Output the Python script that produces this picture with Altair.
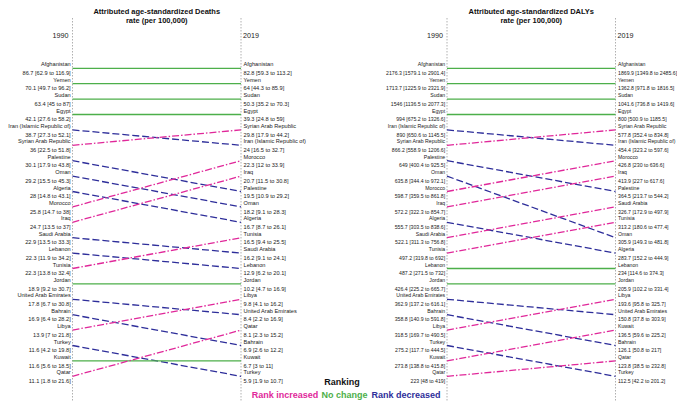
import altair as alt
import pandas as pd

FONT = "Liberation Sans"

# ---------------- data ----------------
deaths_1990_countries = [
    "Afghanistan", "Yemen", "Sudan", "Egypt", "Iran (Islamic Republic of)",
    "Syrian Arab Republic", "Palestine", "Oman", "Algeria", "Morocco", "Iraq",
    "Saudi Arabia", "Lebanon", "Tunisia", "Jordan", "United Arab Emirates",
    "Bahrain", "Libya", "Turkey", "Kuwait", "Qatar"]
deaths_1990_values = [
    "86.7 [62.9 to 116.9]", "70.1 [49.7 to 96.2]", "63.4 [45 to 87]",
    "42.1 [27.6 to 58.2]", "38.7 [27.3 to 52.1]", "36 [22.5 to 51.8]",
    "30.1 [17.9 to 43.8]", "29.2 [15.5 to 45.3]", "28 [14.8 to 43.1]",
    "25.8 [14.7 to 38]", "24.7 [13.5 to 37]", "22.9 [13.5 to 33.3]",
    "22.3 [11.9 to 34.2]", "22.3 [13.8 to 32.4]", "18.9 [9.2 to 30.7]",
    "17.8 [6.7 to 30.8]", "16.9 [6.4 to 28.2]", "13.9 [7 to 21.8]",
    "11.6 [4.2 to 19.8]", "11.6 [5.6 to 18.5]", "11.1 [1.8 to 21.6]"]
deaths_2019_countries = [
    "Afghanistan", "Yemen", "Sudan", "Egypt", "Syrian Arab Republic",
    "Iran (Islamic Republic of)", "Morocco", "Iraq", "Palestine", "Oman",
    "Algeria", "Tunisia", "Saudi Arabia", "Lebanon", "Jordan", "Libya",
    "United Arab Emirates", "Qatar", "Bahrain", "Kuwait", "Turkey"]
deaths_2019_values = [
    "82.8 [59.3 to 113.2]", "64 [44.3 to 85.9]", "50.3 [35.2 to 70.3]",
    "39.3 [24.8 to 59]", "29.8 [17.9 to 44.2]", "24 [16.5 to 32.7]",
    "22.3 [12 to 33.9]", "20.7 [11.5 to 30.8]", "19.5 [10.9 to 29.2]",
    "18.2 [9.1 to 28.3]", "16.7 [8.7 to 26.1]", "16.5 [9.4 to 25.5]",
    "16.2 [9.1 to 24.1]", "12.9 [6.2 to 20.1]", "10.2 [4.7 to 16.9]",
    "9.8 [4.1 to 16.2]", "8.4 [2.2 to 16.9]", "8.1 [2.3 to 15.2]",
    "6.9 [2.6 to 12.2]", "6.7 [3 to 11]", "5.9 [1.9 to 10.7]"]

dalys_1990_countries = [
    "Afghanistan", "Yemen", "Sudan", "Egypt", "Iran (Islamic Republic of)",
    "Syrian Arab Republic", "Palestine", "Oman", "Morocco", "Iraq", "Algeria",
    "Saudi Arabia", "Tunisia", "Lebanon", "Jordan", "United Arab Emirates",
    "Bahrain", "Libya", "Turkey", "Kuwait", "Qatar"]
dalys_1990_values = [
    "2176.3 [1579.1 to 2901.4]", "1713.7 [1225.9 to 2321.9]",
    "1546 [1136.5 to 2077.3]", "994 [675.2 to 1326.6]",
    "890 [650.6 to 1145.5]", "866.2 [558.9 to 1206.6]",
    "649 [400.4 to 925.5]", "635.8 [344.4 to 972.1]",
    "598.7 [359.5 to 861.8]", "572.2 [322.3 to 854.7]",
    "555.7 [303.5 to 838.6]", "522.1 [311.3 to 756.8]",
    "497.2 [319.8 to 692]", "487.2 [271.5 to 732]",
    "426.4 [225.2 to 665.7]", "362.9 [137.2 to 616.1]",
    "358.8 [140.9 to 591.8]", "318.5 [169.7 to 490.5]",
    "275.2 [117.7 to 444.5]", "273.8 [138.8 to 415.8]", "223 [48 to 419]"]
dalys_2019_countries = [
    "Afghanistan", "Yemen", "Sudan", "Egypt", "Syrian Arab Republic",
    "Iran (Islamic Republic of)", "Morocco", "Iraq", "Palestine",
    "Saudi Arabia", "Tunisia", "Oman", "Algeria", "Lebanon", "Jordan", "Libya",
    "United Arab Emirates", "Kuwait", "Bahrain", "Qatar", "Turkey"]
dalys_2019_values = [
    "1869.9 [1349.8 to 2485.6]", "1362.8 [971.8 to 1816.5]",
    "1041.6 [736.8 to 1419.6]", "800 [500.9 to 1185.5]",
    "577.8 [352.4 to 834.8]", "454.4 [323.2 to 597.6]",
    "426.8 [230 to 636.6]", "413.9 [227 to 617.6]",
    "364.5 [213.7 to 544.2]", "326.7 [172.9 to 497.9]",
    "313.2 [180.6 to 477.4]", "305.9 [149.3 to 481.8]",
    "283.7 [152.2 to 444.9]", "234 [114.6 to 374.3]",
    "205.9 [102.2 to 331.4]", "193.6 [95.8 to 325.7]",
    "150.8 [37.8 to 303.9]", "136.5 [59.6 to 225.2]",
    "126.1 [50.8 to 217]", "123.8 [38.5 to 232.8]", "112.5 [42.2 to 201.2]"]

panel_titles = [["Attributed age-standardized Deaths", "rate (per 100,000)"],
                ["Attributed age-standardized DALYs", "rate (per 100,000)"]]
years = ["1990", "2019"]
categories = ["Rank increased", "No change", "Rank decreased"]
category_colors = ["#E0289A", "#4DAF4A", "#2E2E9A"]
legend_title = "Ranking"

# ---------------- layout ----------------
W, H = 669, 394
axis_x = [(64.5, 233.0), (439.0, 607.5)]
label_font = [5.65, 5.2]
rank1_px, step_px = 60.3, 15.4
y_top = 1 - rank1_px / step_px
y_bot = 1 + (H - rank1_px) / step_px

panels = [
    (deaths_1990_countries, deaths_1990_values, deaths_2019_countries, deaths_2019_values),
    (dalys_1990_countries, dalys_1990_values, dalys_2019_countries, dalys_2019_values),
]

line_rows, left_rows, right_rows = [], [], []
for p, (c0, v0, c1, v1) in enumerate(panels):
    xl, xr = axis_x[p]
    for i, c in enumerate(c0):
        r0 = i + 1
        r1 = c1.index(c) + 1
        status = categories[0] if r1 < r0 else (categories[1] if r1 == r0 else categories[2])
        line_rows.append({"x1": xl, "x2": xr, "r0": r0, "r1": r1, "status": status, "country": c})
        left_rows.append({"panel": p, "x": xl - 1.8, "rank": r0, "name": c, "value": v0[i]})
    for i, c in enumerate(c1):
        right_rows.append({"panel": p, "x": xr + 2.5, "rank": i + 1, "name": c, "value": v1[i]})

lines_df = pd.DataFrame(line_rows)
left_df = pd.DataFrame(left_rows)
right_df = pd.DataFrame(right_rows)

xs = alt.Scale(domain=[0, W], nice=False, zero=False)
ys = alt.Scale(domain=[y_top, y_bot], reverse=True, nice=False, zero=False)

lines = alt.Chart(lines_df).mark_rule(strokeWidth=1.3).encode(
    x=alt.X("x1:Q", scale=xs, axis=None),
    x2="x2:Q",
    y=alt.Y("r0:Q", scale=ys, axis=None),
    y2="r1:Q",
    color=alt.Color("status:N", scale=alt.Scale(domain=categories, range=category_colors), legend=None),
    strokeDash=alt.StrokeDash("status:N", scale=alt.Scale(domain=categories, range=[[7, 2, 1.5, 2], [1, 0], [7, 3]]), legend=None),
)

def label_layer(df, p, align, field, dy):
    return alt.Chart(df[df["panel"] == p]).mark_text(
        align=align, baseline="middle", dy=dy, fontSize=label_font[p],
        font=FONT, color="#222222").encode(
        x=alt.X("x:Q", scale=xs, axis=None),
        y=alt.Y("rank:Q", scale=ys, axis=None),
        text=f"{field}:N",
    )

one = pd.DataFrame({"k": [0]})

def note(text, x, y, **kw):
    return alt.Chart(one).mark_text(text=text, font=FONT, **kw).encode(
        x=alt.value(x), y=alt.value(y))

layers = []
for p in range(2):
    xl, xr = axis_x[p]
    for xa in (xl, xr):
        layers.append(alt.Chart(one).mark_rule(color="#b0b0b0", strokeWidth=1, strokeDash=[1.5, 1.5]).encode(
            x=alt.value(xa), y=alt.value(10), y2=alt.value(H)))
layers.append(lines)
for p in range(2):
    layers += [
        label_layer(left_df, p, "right", "name", -4),
        label_layer(left_df, p, "right", "value", 4.6),
        label_layer(right_df, p, "left", "name", -4),
        label_layer(right_df, p, "left", "value", 4.6),
    ]
for p in range(2):
    xl, xr = axis_x[p]
    layers.append(note(panel_titles[p], (xl + xr) / 2, 0, align="center", baseline="top",
                       fontSize=7.5, fontWeight="bold", lineHeight=8.5, color="#111111"))
    layers.append(note(years[0], xl - 4, 28, align="right", baseline="middle", fontSize=7.2, color="#222222"))
    layers.append(note(years[1], xr + 2, 28, align="left", baseline="middle", fontSize=7.2, color="#222222"))

layers.append(note(legend_title, 334, 374, align="center", baseline="middle",
                   fontSize=9, fontWeight="bold", color="#111111"))
legend_x = [277, 336.5, 398]
for cat, col, lx in zip(categories, category_colors, legend_x):
    layers.append(note(cat, lx, 387, align="center", baseline="middle",
                       fontSize=9, fontWeight="bold", color=col))

chart = alt.layer(*layers).properties(
    width=W, height=H, autosize=alt.AutoSizeParams(type="none"), padding=0
).configure_view(stroke=None)

chart.save("out.html", embed_options={"renderer": "svg", "actions": False})
